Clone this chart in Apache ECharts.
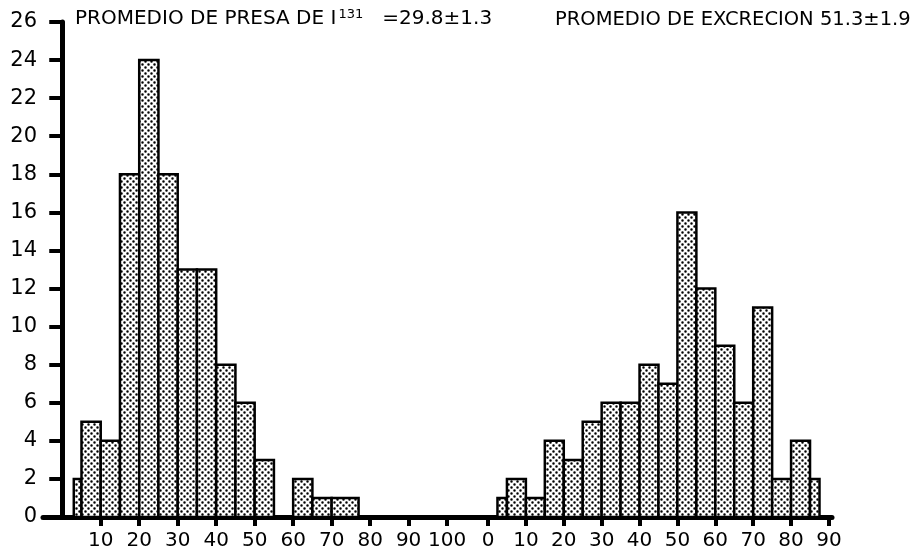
<!DOCTYPE html>
<html>
<head>
<meta charset="utf-8">
<script src="https://cdn.jsdelivr.net/npm/echarts@6/dist/echarts.min.js"></script>
<style>
  html, body { margin: 0; padding: 0; background: #fff; }
  #main { width: 917px; height: 555px; }
</style>
</head>
<body>
<div id="main"></div>
<script>
// histograma izquierdo: presa de I131 (bordes de clase y frecuencias)
var leftLo = [3, 5, 10, 15, 20, 25, 30, 35, 40, 45, 50, 60, 65, 70];
var leftHi = [5, 10, 15, 20, 25, 30, 35, 40, 45, 50, 55, 65, 70, 77];
var leftCounts = [2, 5, 4, 18, 24, 18, 13, 13, 8, 6, 3, 2, 1, 1];

// histograma derecho: excrecion
var rightLo = [2.5, 5, 10, 15, 20, 25, 30, 35, 40, 45, 50, 55, 60, 65, 70, 75, 80, 85];
var rightHi = [5, 10, 15, 20, 25, 30, 35, 40, 45, 50, 55, 60, 65, 70, 75, 80, 85, 87.5];
var rightCounts = [1, 2, 1, 4, 3, 5, 6, 6, 8, 7, 16, 12, 9, 6, 11, 2, 4, 2];

var leftTicks = [10, 20, 30, 40, 50, 60, 70, 80, 90, 100];
var rightTicks = [0, 10, 20, 30, 40, 50, 60, 70, 80, 90];

var leftTitle = "PROMEDIO DE PRESA DE I{sup|131}   =29.8\u00b11.3";
var rightTitle = "PROMEDIO DE EXCRECION 51.3\u00b11.9";

var FONT = "DejaVu Sans";

// trama punteada para las barras
function makeDots() {
  var c = document.createElement("canvas");
  c.width = 6;
  c.height = 6;
  var ctx = c.getContext("2d");
  ctx.fillStyle = "#fff";
  ctx.fillRect(0, 0, 6, 6);
  ctx.fillStyle = "#000";
  ctx.beginPath();
  ctx.arc(1.5, 1.5, 1.25, 0, Math.PI * 2);
  ctx.arc(4.5, 4.5, 1.25, 0, Math.PI * 2);
  ctx.fill();
  return c;
}
var dots = { image: makeDots(), repeat: "repeat" };

function toData(lo, hi, counts) {
  var arr = [];
  for (var i = 0; i < counts.length; i++) {
    arr.push([lo[i], hi[i], counts[i]]);
  }
  return arr;
}

function renderBin(params, api) {
  var a = api.coord([api.value(0), 0]);
  var b = api.coord([api.value(1), api.value(2)]);
  return {
    type: "rect",
    shape: { x: a[0], y: b[1], width: b[0] - a[0], height: a[1] - b[1] },
    style: { fill: dots, stroke: "#000", lineWidth: 2.5 },
  };
}

function xAxisFor(idx, min, max, ticks) {
  return {
    type: "value",
    gridIndex: idx,
    min: min,
    max: max,
    splitLine: { show: false },
    axisLine: { lineStyle: { color: "#000", width: 5 } },
    axisTick: {
      customValues: ticks,
      length: 9,
      lineStyle: { color: "#000", width: 4 },
    },
    axisLabel: {
      customValues: ticks,
      margin: 14,
      color: "#000",
      fontFamily: FONT,
      fontSize: 20,
    },
  };
}

var chartDom = document.getElementById("main");
var myChart = echarts.init(chartDom, null, { renderer: "canvas" });

var option = {
  animation: false,
  backgroundColor: "#fff",
  title: [
    {
      text: leftTitle,
      left: 70,
      top: 3,
      textStyle: {
        fontFamily: FONT,
        fontSize: 20,
        fontWeight: "normal",
        color: "#000",
        rich: {
          sup: { fontFamily: FONT, fontSize: 13, color: "#000", verticalAlign: "top", padding: [0, 0, 9, 2] },
        },
      },
    },
    {
      text: rightTitle,
      left: 550,
      top: 5,
      textStyle: { fontFamily: FONT, fontSize: 19.5, fontWeight: "normal", color: "#000" },
    },
  ],
  grid: [
    { left: 43, top: 22, width: 424.5, height: 495 },
    { left: 467.5, top: 22, width: 364.5, height: 495 },
  ],
  xAxis: [
    xAxisFor(0, -5, 105.3, leftTicks),
    xAxisFor(1, -5.41, 90.8, rightTicks),
  ],
  yAxis: [
    {
      type: "value",
      gridIndex: 0,
      min: 0,
      max: 26,
      interval: 2,
      offset: -15,
      splitLine: { show: false },
      axisLine: { show: true, lineStyle: { color: "#000", width: 5 } },
      axisTick: { show: true, length: 13, lineStyle: { color: "#000", width: 4 } },
      axisLabel: { margin: 21, color: "#000", fontFamily: FONT, fontSize: 21 },
    },
    {
      type: "value",
      gridIndex: 1,
      min: 0,
      max: 26,
      interval: 2,
      show: false,
    },
  ],
  series: [
    {
      type: "custom",
      xAxisIndex: 0,
      yAxisIndex: 0,
      renderItem: renderBin,
      encode: { x: [0, 1], y: 2 },
      data: toData(leftLo, leftHi, leftCounts),
    },
    {
      type: "custom",
      xAxisIndex: 1,
      yAxisIndex: 1,
      renderItem: renderBin,
      encode: { x: [0, 1], y: 2 },
      data: toData(rightLo, rightHi, rightCounts),
    },
  ],
};

myChart.setOption(option);
</script>
</body>
</html>
